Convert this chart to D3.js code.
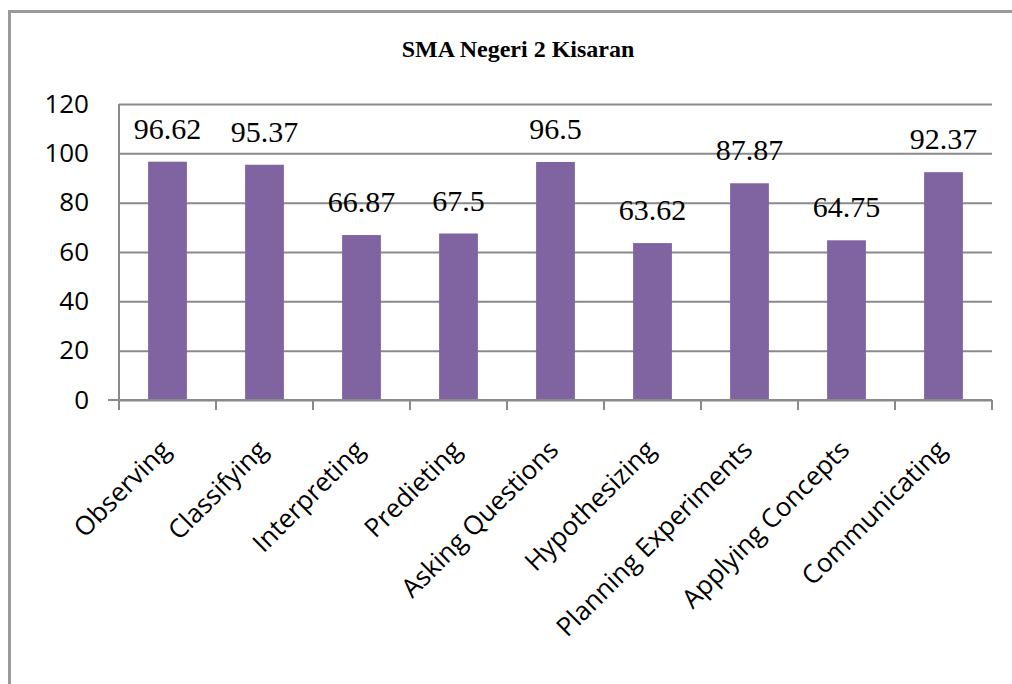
<!DOCTYPE html>
<html>
<head>
<meta charset="utf-8">
<script src="https://cdn.jsdelivr.net/npm/d3@7"></script>
<style>
	body { margin: 0; background: #fff; }
	svg { display: block; }
</style>
</head>
<body>
<div id="chart"></div>
<script>
const title = "SMA Negeri 2 Kisaran";
const categories = ["Observing", "Classifying", "Interpreting", "Predieting", "Asking Questions",
	"Hypothesizing", "Planning Experiments", "Applying Concepts", "Communicating"];
const values = [96.62, 95.37, 66.87, 67.5, 96.5, 63.62, 87.87, 64.75, 92.37];
const valueLabels = ["96.62", "95.37", "66.87", "67.5", "96.5", "63.62", "87.87", "64.75", "92.37"];
const yTicks = [0, 20, 40, 60, 80, 100, 120];

const width = 1012, height = 684;
const plotLeft = 119, plotRight = 992, plotTop = 104, plotBottom = 400;

const svg = d3.select("#chart").append("svg")
	.attr("width", width)
	.attr("height", height);

// outer frame
svg.append("path")
	.attr("d", `M9.5,${height}V11.5H${width}`)
	.attr("fill", "none")
	.attr("stroke", "#9a9a9a")
	.attr("stroke-width", 3);

svg.append("text")
	.attr("x", 518)
	.attr("y", 57)
	.attr("text-anchor", "middle")
	.style("font-family", "'Liberation Serif', 'Times New Roman', serif")
	.style("font-weight", "bold")
	.style("font-size", "24px")
	.text(title);

const x = d3.scaleBand()
	.domain(categories)
	.range([plotLeft, plotRight]);

const y = d3.scaleLinear()
	.domain([0, 120])
	.range([plotBottom, plotTop]);

// gridlines + y ticks
const yAxis = svg.append("g")
	.attr("transform", `translate(${plotLeft},0)`)
	.call(d3.axisLeft(y).tickValues(yTicks).tickSize(11).tickPadding(19).tickFormat(d3.format("d")));
yAxis.select(".domain").remove();
yAxis.selectAll(".tick line").attr("x2", plotRight - plotLeft);
yAxis.selectAll("line").attr("stroke", "#8a8a8a").attr("stroke-width", 2);
yAxis.selectAll("text")
	.style("font-family", "'Open Sans', sans-serif")
	.style("font-size", "26px")
	.attr("fill", "#000");

// y axis line
svg.append("line")
	.attr("x1", plotLeft).attr("x2", plotLeft)
	.attr("y1", plotTop).attr("y2", plotBottom)
	.attr("stroke", "#8a8a8a").attr("stroke-width", 2);

// x category ticks at band edges
const edges = categories.map(c => x(c)).concat([plotRight]);
svg.selectAll(".xtick")
	.data(edges)
	.enter().append("line")
	.attr("x1", d => d).attr("x2", d => d)
	.attr("y1", plotBottom).attr("y2", plotBottom + 10)
	.attr("stroke", "#8a8a8a").attr("stroke-width", 2);

const barW = x.bandwidth() / 2.5;

svg.selectAll(".bar")
	.data(values)
	.enter().append("rect")
	.attr("x", (d, i) => x(categories[i]) + (x.bandwidth() - barW) / 2)
	.attr("y", d => y(d))
	.attr("width", barW)
	.attr("height", d => y(0) - y(d))
	.attr("fill", "#8064a2");

svg.selectAll(".vlabel")
	.data(values)
	.enter().append("text")
	.attr("x", (d, i) => x(categories[i]) + x.bandwidth() / 2)
	.attr("y", d => y(d) - 23)
	.attr("text-anchor", "middle")
	.style("font-family", "'Liberation Serif', 'Times New Roman', serif")
	.style("font-size", "30px")
	.text((d, i) => valueLabels[i]);

svg.selectAll(".clabel")
	.data(categories)
	.enter().append("text")
	.attr("transform", d => `translate(${x(d) + x.bandwidth() / 2 - 2},${plotBottom + 45}) rotate(-45)`)
	.attr("text-anchor", "end")
	.attr("dy", "0.35em")
	.style("font-family", "'Open Sans', sans-serif")
	.style("font-size", "26px")
	.text(d => d);

// axis bottom line on top of bars
svg.append("line")
	.attr("x1", plotLeft - 11).attr("x2", plotRight)
	.attr("y1", plotBottom).attr("y2", plotBottom)
	.attr("stroke", "#8a8a8a").attr("stroke-width", 2);
</script>
</body>
</html>
